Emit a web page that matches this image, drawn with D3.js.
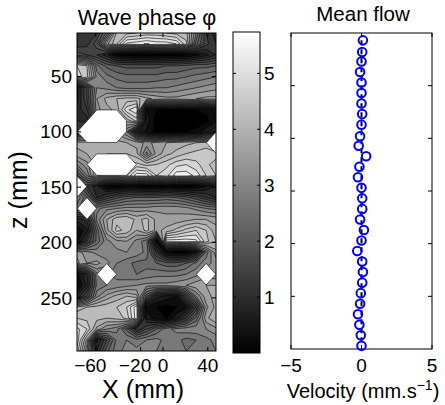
<!DOCTYPE html>
<html><head><meta charset="utf-8">
<script src="https://cdn.jsdelivr.net/npm/d3@7"></script>
<style>
body{margin:0;background:#fff}
svg{display:block}
text{font-family:"Liberation Sans",Arial,Helvetica,sans-serif;fill:#000}
</style>
</head><body>
<svg id="c" width="445" height="405"></svg>
<script>
// ---------------- data ----------------
const gridX = [-76.8,-67.9,-59.1,-50.2,-41.3,-32.5,-23.6,-14.7,-5.9,3.0,11.9,20.7,29.6,38.5,47.3];
const gridZ = [10.7,20.6,30.5,40.4,50.3,60.2,70.1,80.0,90.0,99.9,109.8,119.7,129.6,139.5,149.4,
               159.3,169.2,179.1,189.0,198.9,208.8,218.7,228.7,238.6,248.5,258.4,268.3,278.2,288.1,298.0];
const N = null; // missing PIV data
const phase = [
 [1.2,1.3,1.5,2.5,4.3,4.4,4.5,4.6,4.6,4.5,4.4,4.3,3.0,1.5,1.0],
 [1.3,1.4,2.0,3.8,4.5,5.5,5.6,5.74,5.6,5.6,5.4,4.6,2.5,1.6,1.2],
 [2.0,1.8,1.5,1.0,0.3,0.2,0.1,0.1,0.1,0.2,0.2,0.3,0.5,0.8,1.2],
 [4.8,4.5,2.8,2.3,2.1,2.0,2.0,2.0,2.0,2.1,2.1,2.2,2.3,2.3,2.4],
 [5.0,4.6,3.2,2.8,2.6,2.5,2.5,2.5,2.5,2.6,2.6,2.7,2.8,2.9,3.0],
 [0.8,1.8,3.3,3.2,3.0,2.9,2.9,2.9,3.0,3.0,3.1,3.2,3.3,3.4,3.5],
 [0.8,1.8,3.6,4.0,4.2,4.3,4.3,4.0,3.8,3.7,3.7,3.8,3.9,4.0,4.0],
 [1.0,1.5,3.5,3.8,4.0,5.0,5.4,0.6,0.3,0.3,0.3,0.3,0.3,0.4,0.6],
 [1.2,1.0,N,N,N,4.0,4.6,0.8,0.1,0.0,0.05,0.05,0.1,0.2,0.5],
 [1.5,N,N,N,N,3.0,1.0,0.5,0.2,0.2,0.2,0.3,0.4,0.8,1.2],
 [4.0,4.0,4.1,4.1,4.0,3.9,3.8,3.5,3.7,3.9,4.0,4.1,4.2,4.3,N],
 [3.8,3.9,4.0,4.2,4.2,4.2,4.0,2.9,3.7,4.1,4.3,4.5,4.6,4.7,4.7],
 [3.0,3.5,N,N,N,N,4.6,4.4,4.5,4.7,5.0,5.1,4.9,4.6,4.3],
 [2.0,3.0,4.5,4.6,4.6,4.8,5.6,5.6,4.8,5.0,5.6,5.6,5.3,4.8,4.5],
 [N,1.5,1.0,0.3,0.2,0.4,0.3,0.2,0.2,0.3,0.2,0.2,0.3,0.6,1.0],
 [3.3,2.4,1.2,1.6,2.0,2.3,2.4,2.4,2.4,2.5,2.4,2.2,1.9,1.5,1.2],
 [2.8,N,2.9,3.2,3.3,3.4,3.4,3.4,3.5,3.5,3.5,3.4,3.2,3.0,2.9],
 [1.0,1.3,3.1,3.9,4.4,4.5,4.1,4.3,3.8,3.7,3.7,3.8,3.9,3.9,3.8],
 [0.3,0.8,2.5,3.8,4.6,4.4,3.9,4.3,3.8,4.0,4.3,4.6,4.8,4.5,4.0],
 [0.5,1.5,2.5,3.2,3.5,3.6,3.2,2.8,0.5,5.6,5.6,5.6,5.5,4.6,4.2],
 [3.8,3.4,3.2,3.1,3.2,3.3,3.2,2.9,1.4,0.4,0.2,0.3,0.9,2.8,3.8],
 [4.0,3.6,3.7,3.4,3.0,2.8,2.6,2.6,2.4,2.2,2.2,2.4,2.8,3.2,3.4],
 [0.5,1.2,2.9,N,2.9,2.8,2.7,2.8,2.9,2.9,2.9,3.0,3.2,N,3.4],
 [0.2,1.0,2.8,3.0,3.1,3.2,3.3,3.4,3.4,3.4,3.5,3.6,3.8,3.9,3.9],
 [1.0,1.8,3.2,3.7,4.0,4.2,4.0,2.2,1.0,0.8,0.6,1.6,3.0,3.8,4.0],
 [4.0,4.2,4.3,4.4,4.5,4.8,5.6,0.5,0.3,0.2,0.3,0.5,1.5,3.5,4.0],
 [4.5,4.4,4.3,4.2,4.3,4.6,5.6,0.8,0.4,0.3,0.8,1.5,2.5,3.8,4.2],
 [5.2,4.8,3.8,3.3,3.1,2.3,1.2,1.8,2.4,2.9,3.1,3.2,3.2,3.3,3.5],
 [5.3,3.8,0.8,1.8,2.8,3.0,2.8,3.0,3.1,2.9,2.8,2.6,2.7,2.9,3.1],
 [5.0,3.3,1.2,2.3,2.9,3.1,3.1,3.1,3.0,2.8,2.7,2.7,2.8,2.9,3.0]
];
const levels = [0,0.3,0.6,0.9,1.2,1.5,1.8,2.1,2.4,2.7,3.0,3.3,3.6,3.9,4.2,4.5,4.8,5.1,5.4,5.7];
const cbarDomain = [0, 5.74];
const cbarTicks = [1,2,3,4,5];
const xTicks = [-60,-20,0,40];
const zTicks = [50,100,150,200,250];

const flowZ = [7,18,27,37,47,57,67,77,87,98,107,117,127,137,147,157,167,177,187,197,207,217,227,237,247,257,267,277,287,297];
const flowU = [0.1,0.05,0,-0.1,0,0,0,0.05,0,-0.1,-0.2,0.33,-0.15,-0.25,0,0.05,0.05,-0.1,0.17,0,-0.3,0.05,0.1,0.05,-0.05,-0.1,-0.25,-0.15,-0.05,0];
const uDomain = [-5,5];
const uTicks = [-5,0,5];
const flowZDomain = [0,300];
const flowZTicks = [50,100,150,200,250];

// ---------------- layout ----------------
const svg = d3.select("#c");
const L = {x0:77, x1:216, y0:33, y1:351};
const R = {x0:291, x1:432, y0:33, y1:349};
const CB = {x0:233, x1:260, y0:32, y1:353};
const TICK_FS = 19;

const X = d3.scaleLinear().domain(d3.extent(gridX)).range([L.x0, L.x1]);
const Z = d3.scaleLinear().domain(d3.extent(gridZ)).range([L.y0, L.y1]);
const gray = d3.scaleLinear().domain(cbarDomain).range(["#000000","#ffffff"]);

// ---------------- contour plot ----------------
const nx = gridX.length, nz = gridZ.length;
let filled = phase.map(r => r.slice());
for (let it = 0; it < 5; it++) {
  const next = filled.map(r => r.slice());
  for (let r = 0; r < nz; r++) for (let c = 0; c < nx; c++) {
    if (filled[r][c] == null) {
      const nb = [[r-1,c],[r+1,c],[r,c-1],[r,c+1]]
        .filter(([a,b]) => a>=0 && a<nz && b>=0 && b<nx && filled[a][b] != null)
        .map(([a,b]) => filled[a][b]);
      if (nb.length) next[r][c] = d3.mean(nb);
    }
  }
  filled = next;
}
const ix = d3.scaleLinear().domain(d3.range(nx)).range(gridX);
const iz = d3.scaleLinear().domain(d3.range(nz)).range(gridZ);
const proj = d3.geoTransform({point(x, y){ this.stream.point(X(ix(x-0.5)), Z(iz(y-0.5))); }});
const path = d3.geoPath(proj);

const defs = svg.append("defs");
defs.append("clipPath").attr("id","clipL").append("rect")
  .attr("x",L.x0).attr("y",L.y0).attr("width",L.x1-L.x0).attr("height",L.y1-L.y0);

const gC = svg.append("g").attr("clip-path","url(#clipL)");
const bands = d3.contours().size([nx,nz]).thresholds(levels)(filled.flat());
gC.selectAll("path.f").data(bands).join("path").attr("class","f")
  .attr("d", path).attr("fill", d => gray(d.value)).attr("stroke","none");
gC.selectAll("path.l").data(bands.slice(1)).join("path").attr("class","l")
  .attr("d", path).attr("fill","none").attr("stroke","#000").attr("stroke-width",0.6);
const maskVals = phase.flat().map(v => v == null ? 1 : 0);
const holes = d3.contours().size([nx,nz]).thresholds([0.02])(maskVals);
gC.selectAll("path.m").data(holes).join("path").attr("class","m")
  .attr("d", path).attr("fill","#fff").attr("stroke","#000").attr("stroke-width",0.6);

// left axes
const gL = svg.append("g");
gL.append("rect").attr("x",L.x0).attr("y",L.y0).attr("width",L.x1-L.x0).attr("height",L.y1-L.y0)
  .attr("fill","none").attr("stroke","#000").attr("stroke-width",1);
xTicks.forEach(t => {
  gL.append("line").attr("x1",X(t)).attr("x2",X(t)).attr("y1",L.y1).attr("y2",L.y1-4).attr("stroke","#000");
  gL.append("line").attr("x1",X(t)).attr("x2",X(t)).attr("y1",L.y0).attr("y2",L.y0+4).attr("stroke","#000");
  gL.append("text").attr("x",X(t)).attr("y",372).attr("text-anchor","middle")
    .attr("dx", t < 0 ? -5.5 : 0).attr("font-size",TICK_FS)
    .text(t < 0 ? "\u2212" + Math.abs(t) : String(t));
});
zTicks.forEach(t => {
  gL.append("line").attr("x1",L.x0).attr("x2",L.x0+4).attr("y1",Z(t)).attr("y2",Z(t)).attr("stroke","#000");
  gL.append("line").attr("x1",L.x1).attr("x2",L.x1-4).attr("y1",Z(t)).attr("y2",Z(t)).attr("stroke","#000");
  gL.append("text").attr("x",72).attr("y",Z(t)).attr("dy","0.35em").attr("text-anchor","end")
    .attr("font-size",TICK_FS).text(t);
});
gL.append("text").attr("x",147).attr("y",25).attr("text-anchor","middle").attr("font-size",21.5).text("Wave phase \u03c6");
gL.append("text").attr("x",143).attr("y",398).attr("text-anchor","middle").attr("font-size",25).text("X (mm)");
gL.append("text").attr("transform","translate(27,190) rotate(-90)").attr("text-anchor","middle")
  .attr("font-size",25).text("z (mm)");

// ---------------- colorbar ----------------
const C = d3.scaleLinear().domain(cbarDomain).range([CB.y1, CB.y0]);
const grad = defs.append("linearGradient").attr("id","gr").attr("x1",0).attr("x2",0).attr("y1",1).attr("y2",0);
grad.append("stop").attr("offset",0).attr("stop-color",gray(cbarDomain[0]));
grad.append("stop").attr("offset",1).attr("stop-color",gray(cbarDomain[1]));
const gB = svg.append("g");
gB.append("rect").attr("x",CB.x0).attr("y",CB.y0).attr("width",CB.x1-CB.x0).attr("height",CB.y1-CB.y0)
  .attr("fill","url(#gr)").attr("stroke","#000").attr("stroke-width",1);
cbarTicks.forEach(t => {
  gB.append("line").attr("x1",CB.x0).attr("x2",CB.x0+3).attr("y1",C(t)).attr("y2",C(t)).attr("stroke","#000");
  gB.append("line").attr("x1",CB.x1).attr("x2",CB.x1-3).attr("y1",C(t)).attr("y2",C(t)).attr("stroke","#000");
  gB.append("text").attr("x",CB.x1+4).attr("y",C(t)).attr("dy","0.35em").attr("font-size",TICK_FS).text(t);
});

// ---------------- mean flow ----------------
const U = d3.scaleLinear().domain(uDomain).range([R.x0, R.x1]);
const FZ = d3.scaleLinear().domain(flowZDomain).range([R.y0, R.y1]);
const gR = svg.append("g");
gR.append("rect").attr("x",R.x0).attr("y",R.y0).attr("width",R.x1-R.x0).attr("height",R.y1-R.y0)
  .attr("fill","#fff").attr("stroke","#000").attr("stroke-width",1);
uTicks.forEach(t => {
  gR.append("line").attr("x1",U(t)).attr("x2",U(t)).attr("y1",R.y1).attr("y2",R.y1-4).attr("stroke","#000");
  gR.append("line").attr("x1",U(t)).attr("x2",U(t)).attr("y1",R.y0).attr("y2",R.y0+4).attr("stroke","#000");
  gR.append("text").attr("x",U(t)).attr("y",372).attr("text-anchor","middle").attr("font-size",TICK_FS)
    .text(t < 0 ? "\u2212" + Math.abs(t) : String(t));
});
flowZTicks.forEach(t => {
  gR.append("line").attr("x1",R.x0).attr("x2",R.x0+4).attr("y1",FZ(t)).attr("y2",FZ(t)).attr("stroke","#000");
  gR.append("line").attr("x1",R.x1).attr("x2",R.x1-4).attr("y1",FZ(t)).attr("y2",FZ(t)).attr("stroke","#000");
});
gR.append("line").attr("x1",U(0)).attr("x2",U(0))
  .attr("y1",FZ(d3.min(flowZ))).attr("y2",FZ(d3.max(flowZ)))
  .attr("stroke","#000").attr("stroke-width",2).attr("stroke-dasharray","5,4");
gR.selectAll("circle").data(flowU).join("circle")
  .attr("cx", d => U(d)).attr("cy", (d,i) => FZ(flowZ[i])).attr("r",4.3)
  .attr("fill","none").attr("stroke","#0000ff").attr("stroke-width",2);
gR.append("text").attr("x",363).attr("y",21).attr("text-anchor","middle").attr("font-size",20.5).text("Mean flow");
const vl = gR.append("text").attr("x",363).attr("y",398).attr("text-anchor","middle").attr("font-size",20);
vl.append("tspan").text("Velocity (mm.s");
vl.append("tspan").attr("dy",-8).attr("font-size",14).text("\u22121");
vl.append("tspan").attr("dy",8).text(")");
</script>
</body></html>
